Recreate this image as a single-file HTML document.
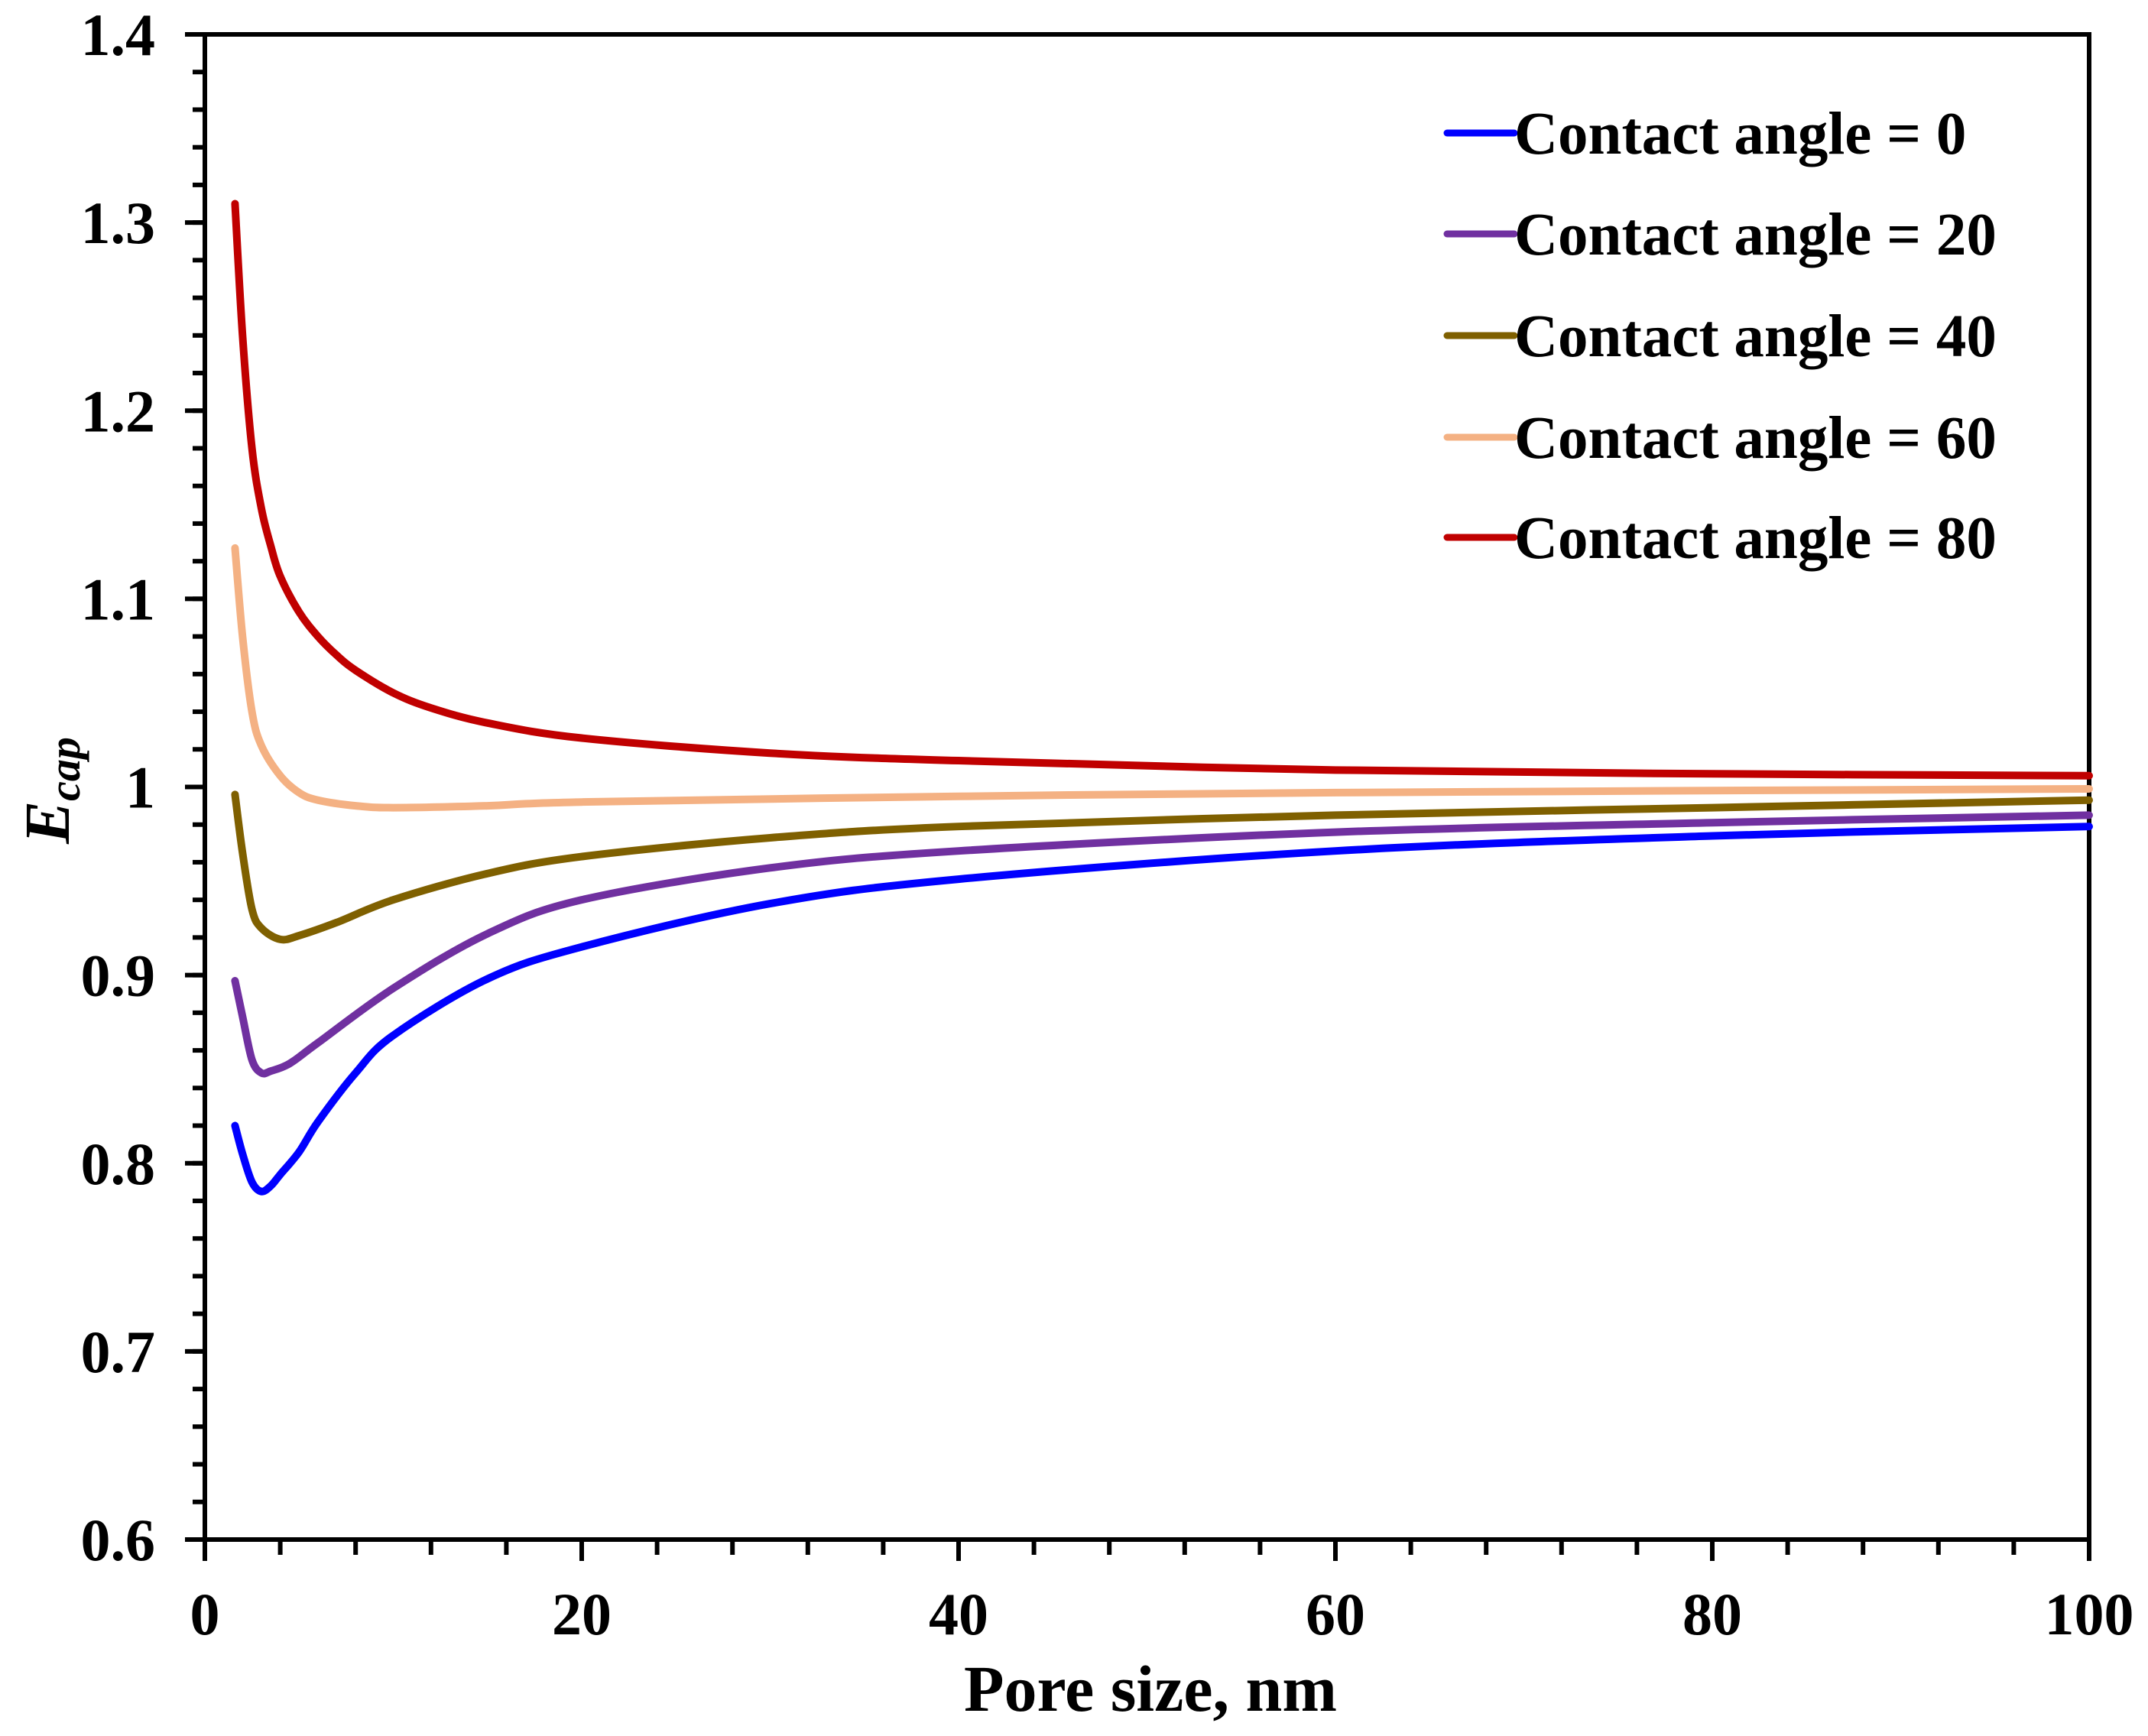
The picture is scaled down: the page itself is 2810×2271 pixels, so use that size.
<!DOCTYPE html>
<html><head><meta charset="utf-8"><style>
html,body{margin:0;padding:0;background:#fff;}
svg text{font-family:"Liberation Serif",serif;font-weight:bold;fill:#000;}
</style></head><body>
<svg id="chart" width="2810" height="2266" xmlns="http://www.w3.org/2000/svg">
<g id="grid"></g>
<g id="lines"></g>
<g id="legend"></g>
<text x="1505" y="2238" font-size="86" text-anchor="middle">Pore size, nm</text>
<text transform="translate(90,1034) rotate(-90)" font-size="84" text-anchor="middle" font-style="italic">E<tspan font-size="58" dy="14">cap</tspan></text>
</svg>
<script>
const xTicks=[0,20,40,60,80,100];
const yTicks=[0.6,0.7,0.8,0.9,1,1.1,1.2,1.3,1.4];
const yTickLabels=["0.6","0.7","0.8","0.9","1","1.1","1.2","1.3","1.4"];
const seriesNames=["Contact angle = 0","Contact angle = 20","Contact angle = 40","Contact angle = 60","Contact angle = 80"];
const seriesColors=["#0000ff","#7030a0","#7f6000","#f4b183","#c00000"];
const xs0=[1.6,2,2.5,3,3.5,4,5,6,8,10,15,20,30,40,60,80,100];
const ys0=[0.82,0.805,0.79,0.785,0.788,0.794,0.806,0.822,0.848,0.868,0.898,0.915,0.938,0.951,0.966,0.974,0.979];
const xs1=[1.6,2,2.5,3,3.5,4.5,6,10,15,20,30,40,60,80,100];
const ys1=[0.897,0.878,0.855,0.848,0.849,0.853,0.864,0.893,0.922,0.94,0.957,0.966,0.976,0.981,0.985];
const xs2=[1.6,2,2.5,3,4,5,7,10,15,20,30,40,60,80,100];
const ys2=[0.996,0.965,0.935,0.925,0.919,0.921,0.928,0.94,0.954,0.963,0.973,0.979,0.985,0.989,0.993];
const xs3=[1.6,2,2.5,3,4,5,6,8,10,15,20,40,60,100];
const ys3=[1.127,1.08,1.04,1.022,1.006,0.997,0.993,0.99,0.989,0.99,0.992,0.995,0.997,0.999];
const xs4=[1.6,2,2.5,3,3.5,4,5,6,7,8,10,12,15,20,30,40,60,80,100];
const ys4=[1.31,1.24,1.18,1.148,1.128,1.112,1.093,1.08,1.07,1.062,1.05,1.042,1.034,1.026,1.018,1.014,1.009,1.007,1.006];
const seriesX=[xs0,xs1,xs2,xs3,xs4];
const seriesY=[ys0,ys1,ys2,ys3,ys4];

const L=268,R=2733,T=45,B=2014;
const sx=v=>L+(v-0)/100*(R-L);
const sy=v=>B-(v-0.6)/0.8*(B-T);
const NS="http://www.w3.org/2000/svg";
function mk(tag,attrs,parent){const e=document.createElementNS(NS,tag);for(const k in attrs)e.setAttribute(k,attrs[k]);parent.appendChild(e);return e;}
const g=document.getElementById('grid');
for(let v=0;v<=100.001;v+=4){const t=mk('line',{x1:sx(v),x2:sx(v),y1:B,y2:B+20,stroke:'#000','stroke-width':6},g);

}
for(let v=0.6;v<=1.4001;v+=0.02){const t=mk('line',{x1:L-16,x2:L,y1:sy(v),y2:sy(v),stroke:'#000','stroke-width':6},g);

}
xTicks.forEach(v=>{const t=mk('line',{x1:sx(v),x2:sx(v),y1:B,y2:B+28,stroke:'#000','stroke-width':6},g);


const tx=mk('text',{x:sx(v),y:2138,'font-size':78,'text-anchor':'middle'},g);tx.textContent=v;

});
yTicks.forEach((v,i)=>{const t=mk('line',{x1:L-26,x2:L,y1:sy(v),y2:sy(v),stroke:'#000','stroke-width':6},g);


const tx=mk('text',{x:203,y:sy(v)+27,'font-size':78,'text-anchor':'end'},g);tx.textContent=yTickLabels[i];

});
const frame=mk('rect',{x:L,y:T,width:R-L,height:B-T,fill:'none',stroke:'#000','stroke-width':6},g);


const lg=document.getElementById('lines');
function smoothPath(px,py){
  const pts=px.map((x,i)=>[sx(x),sy(py[i])]);
  let d='M'+pts[0][0]+','+pts[0][1];
  for(let i=0;i<pts.length-1;i++){
    const p0=pts[Math.max(0,i-1)],p1=pts[i],p2=pts[i+1],p3=pts[Math.min(pts.length-1,i+2)];
    const t=1/6;
    const c1=[p1[0]+(p2[0]-p0[0])*t,p1[1]+(p2[1]-p0[1])*t];
    const c2=[p2[0]-(p3[0]-p1[0])*t,p2[1]-(p3[1]-p1[1])*t];
    d+=' C'+c1[0]+','+c1[1]+' '+c2[0]+','+c2[1]+' '+p2[0]+','+p2[1];
  }
  return d;
}
seriesX.forEach((xs,i)=>{const p=mk('path',{d:smoothPath(xs,seriesY[i]),fill:'none',stroke:seriesColors[i],'stroke-width':10,'stroke-linecap':'round','stroke-linejoin':'round'},lg);

});
const leg=document.getElementById('legend');
const rowsY=[174,306,439,572,703];
seriesNames.forEach((n,i)=>{
  const ln=mk('line',{x1:1893,x2:1981,y1:rowsY[i],y2:rowsY[i],stroke:seriesColors[i],'stroke-width':9,'stroke-linecap':'round'},leg);
  
  
  const t=mk('text',{x:1981,y:rowsY[i]+27,'font-size':79},leg);t.textContent=n;
  
  
});
</script>
</body></html>
